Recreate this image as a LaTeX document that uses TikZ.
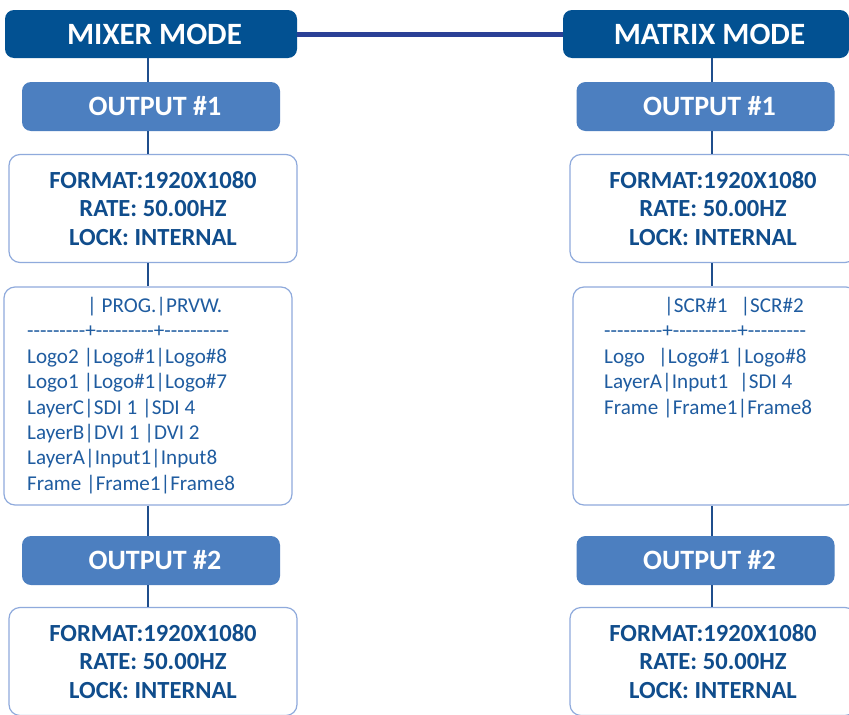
\documentclass[tikz,border=0pt]{standalone}
\usepackage{fontspec}
\setmainfont{Carlito}
\usepackage{tikz}
\usetikzlibrary{positioning}

\definecolor{titleblue}{RGB}{2,81,146}
\definecolor{outblue}{RGB}{76,127,192}
\definecolor{frameblue}{RGB}{143,170,220}
\definecolor{textblue}{RGB}{16,77,140}
\definecolor{tabletext}{RGB}{31,92,160}
\definecolor{linkblue}{RGB}{31,78,140}
\definecolor{bridgeblue}{RGB}{43,64,150}

% single hyphens, kept apart so they never join into a dash
\newcommand{\hy}{\hbox{-}}
\newcommand{\dashrun}[1]{\foreach \k in {1,...,#1}{\hy}}

\begin{document}
\begin{tikzpicture}[x=1pt, y=-1pt,
    modebox/.style={fill=titleblue, rounded corners=9pt, text=white, inner sep=0pt,
        minimum height=48pt, font=\fontsize{31}{36}\selectfont\bfseries,
        execute at begin node=\hspace*{7pt}},
    outbox/.style={fill=outblue, rounded corners=9pt, text=white, inner sep=0pt,
        minimum width=258pt, minimum height=49pt, font=\fontsize{28}{32}\selectfont\bfseries,
        execute at begin node=\hspace*{8pt}},
    infobox/.style={draw=frameblue, line width=1.2pt, fill=white, rounded corners=11pt,
        text=textblue, align=center, inner sep=0pt, minimum height=108pt,
        font=\fontsize{24.6}{28.5}\selectfont\bfseries},
    tablebox/.style={draw=frameblue, line width=1.2pt, fill=white, rounded corners=11pt,
        minimum height=218pt},
    tabletxt/.style={text=tabletext, align=left, inner sep=0pt, anchor=north west,
        font=\fontsize{21.1}{25.4}\selectfont},
    link/.style={draw=linkblue, line width=2.5pt},
    bridge/.style={draw=bridgeblue, line width=5pt}]
    \clip (0,0) rectangle (849,715);
    \fill[white] (0,0) rectangle (849,715);

    % Mode headers
    \node[modebox, minimum width=292pt] (mixer) at (151,34) {MIXER MODE};
    \node[modebox, minimum width=286pt] (matrix) at (706,34) {MATRIX MODE};
    \draw[bridge] (mixer.east) -- (matrix.west);

    % Mixer side
    \node[outbox] (outA1) at (151,106.5) {OUTPUT \#1};
    \node[infobox, minimum width=288pt] (fmtA1) at (153,208.5) {FORMAT:1920X1080\\RATE: 50.00HZ\\LOCK: INTERNAL};
    \node[tablebox, minimum width=288pt] (tabA) at (148,396) {};
    \node[tabletxt] (tabAtext) at (27,297) {%
        \hspace*{60pt}| PROG.|PRVW.\\
        \dashrun{9}+\dashrun{9}+\dashrun{10}\\
        Logo2 |Logo\#1|Logo\#8\\
        Logo1 |Logo\#1|Logo\#7\\
        LayerC|SDI 1 |SDI 4\\
        LayerB|DVI 1 |DVI 2\\
        LayerA|Input1|Input8\\
        Frame |Frame1|Frame8};
    \node[outbox] (outA2) at (151,560.5) {OUTPUT \#2};
    \node[infobox, minimum width=288pt] (fmtA2) at (153,661.5) {FORMAT:1920X1080\\RATE: 50.00HZ\\LOCK: INTERNAL};

    % Matrix side
    \node[outbox] (outB1) at (705.5,106.5) {OUTPUT \#1};
    \node[infobox, minimum width=286pt] (fmtB1) at (713,208.5) {FORMAT:1920X1080\\RATE: 50.00HZ\\LOCK: INTERNAL};
    \node[tablebox, minimum width=284pt] (tabB) at (715,396) {};
    \node[tabletxt] (tabBtext) at (604,297) {%
        \hspace*{60pt}|SCR\#1\hspace*{13pt}|SCR\#2\\
        \dashrun{9}+\dashrun{10}+\dashrun{9}\\
        Logo\hspace*{13pt}|Logo\#1 |Logo\#8\\
        LayerA|Input1\hspace*{11pt}|SDI 4\\
        Frame |Frame1|Frame8};
    \node[outbox] (outB2) at (705.5,560.5) {OUTPUT \#2};
    \node[infobox, minimum width=286pt] (fmtB2) at (713,661.5) {FORMAT:1920X1080\\RATE: 50.00HZ\\LOCK: INTERNAL};

    % Spines
    \coordinate (spineA) at (148,0);
    \coordinate (spineB) at (712,0);
    \foreach \u/\v in {mixer/outA1, outA1/fmtA1, fmtA1/tabA, tabA/outA2, outA2/fmtA2}
        \draw[link] (\u.south -| spineA) -- (\v.north -| spineA);
    \foreach \u/\v in {matrix/outB1, outB1/fmtB1, fmtB1/tabB, tabB/outB2, outB2/fmtB2}
        \draw[link] (\u.south -| spineB) -- (\v.north -| spineB);
\end{tikzpicture}
\end{document}
